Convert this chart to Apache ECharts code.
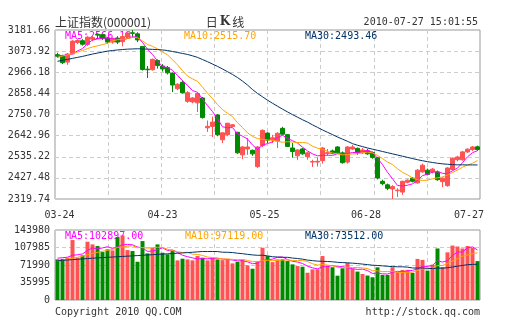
<!DOCTYPE html>
<html><head><meta charset="utf-8">
<script src="https://cdn.jsdelivr.net/npm/echarts/dist/echarts.min.js"></script>
<style>html,body{margin:0;padding:0;background:#fff}#c{width:505px;height:330px}</style>
</head><body><div id="c"></div>
<script>
const dates = ['03-24','03-25','03-26','03-29','03-30','03-31',
'04-01','04-02','04-06','04-07','04-08','04-09','04-12','04-13','04-14','04-15','04-16','04-19','04-20','04-21','04-22','04-23','04-26','04-27','04-28','04-29','04-30',
'05-04','05-05','05-06','05-07','05-10','05-11','05-12','05-13','05-14','05-17','05-18','05-19','05-20','05-21','05-24','05-25','05-26','05-27','05-28','05-31',
'06-01','06-02','06-03','06-04','06-07','06-08','06-09','06-10','06-11','06-17','06-18','06-21','06-22','06-23','06-24','06-25','06-28','06-29','06-30',
'07-01','07-02','07-05','07-06','07-07','07-08','07-09','07-12','07-13','07-14','07-15','07-16','07-19','07-20','07-21','07-22','07-23','07-26','07-27'];

const opens = [3056,3050,3018,3060,3118,3127,3108,3135,3160,3158,
3140,3120,3140,3122,3146,3167,3162,3098,2982,2979,
3026,2998,2990,2962,2882,2915,2818,2815,2810,2835,
2683,2690,2748,2622,2648,2690,2660,2545,2575,2568,
2485,2592,2656,2622,2615,2680,2648,2580,2540,2575,
2535,2508,2508,2515,2552,2565,2585,2555,2508,2575,
2578,2555,2565,2557,2530,2410,2392,2371,2362,2355,
2405,2426,2402,2458,2467,2458,2458,2408,2388,2470,
2520,2520,2560,2572,2586];

const closes = [3048,3015,3059,3125,3128,3109,3145,3143,3156,3140,
3120,3134,3120,3148,3166,3165,3131,2980,2979,3032,
3000,2983,2963,2901,2905,2862,2862,2835,2858,2735,
2690,2712,2648,2657,2706,2698,2555,2585,2585,2550,
2585,2670,2620,2632,2655,2650,2588,2562,2570,2550,
2555,2511,2512,2580,2556,2553,2555,2505,2585,2585,
2555,2570,2550,2532,2427,2398,2374,2383,2365,2410,
2416,2410,2467,2492,2445,2472,2418,2426,2478,2528,
2534,2560,2574,2585,2572];

const highs = [3066,3055,3064,3130,3135,3135,3150,3152,3165,3162,
3146,3142,3150,3166,3170,3181.66,3170,3100,2998,3036,
3032,3008,2998,2965,2910,2925,2870,2840,2862,2840,
2720,2740,2752,2660,2708,2702,2662,2590,2630,2572,
2590,2675,2660,2647,2660,2688,2650,2605,2574,2580,
2560,2520,2532,2585,2575,2572,2590,2562,2590,2595,
2582,2580,2575,2562,2535,2418,2398,2390,2375,2413,
2420,2432,2472,2500,2475,2478,2465,2430,2482,2532,
2540,2565,2578,2590,2592];

const lows = [3040,3008,3004,3058,3110,3102,3100,3125,3136,3130,
3112,3112,3110,3098,3140,3142,3120,2975,2937,2975,
2985,2970,2955,2865,2875,2858,2810,2808,2763,2730,
2662,2636,2640,2605,2640,2686,2550,2523,2545,2540,
2478,2585,2605,2605,2580,2645,2585,2530,2518,2545,
2520,2483,2485,2500,2540,2548,2550,2500,2500,2570,
2545,2550,2545,2525,2420,2390,2365,2319.74,2330,2340,
2400,2405,2398,2455,2440,2450,2413,2380,2382,2465,
2512,2515,2555,2565,2565];

const priceMA5 = [3050,3052,3055,3060,3075,3087,3113,3130,3136,3139,
3141,3139,3134,3132,3138,3147,3146,3118,3084,3057,
3024,2995,2991,2976,2950,2923,2899,2873,2864,2830,
2796,2766,2729,2688,2683,2684,2653,2640,2626,2595,
2572,2595,2602,2611,2632,2645,2629,2617,2605,2584,
2565,2550,2540,2542,2543,2542,2551,2550,2551,2557,
2557,2560,2569,2558,2527,2495,2456,2423,2389,2386,
2390,2397,2414,2439,2446,2457,2459,2451,2448,2464,
2477,2505,2535,2556,2566.18];

const priceMA10 = [3041,3049,3054,3062,3069,3077,3087,3095,3101,3107,
3114,3126,3132,3134,3138,3144,3142,3126,3108,3098,
3086,3070,3055,3030,3004,2974,2947,2932,2920,2890,
2859,2832,2801,2776,2757,2740,2709,2684,2657,2639,
2628,2624,2621,2619,2614,2609,2612,2610,2608,2608,
2605,2589,2579,2573,2563,2554,2550,2545,2546,2550,
2550,2556,2559,2555,2542,2526,2508,2496,2474,2456,
2443,2427,2418,2414,2416,2423,2428,2432,2443,2455,
2467,2482,2493,2502,2515.70];

const priceMA30 = [3022,3027,3032,3037,3042,3047,3053,3059,3064,3069,
3074,3077,3080,3082,3084,3085,3086,3085,3084,3083,
3082,3080,3077,3072,3067,3062,3057,3050,3042,3031,
3020,3008,2996,2983,2969,2955,2939,2921,2901,2878,
2858,2841,2824,2808,2793,2778,2764,2750,2737,2724,
2712,2698,2685,2672,2660,2648,2636,2625,2614,2602,
2594,2587,2580,2574,2568,2562,2556,2550,2544,2538,
2532,2526,2520,2515,2510,2506,2502,2499,2497,2495,
2494,2494,2493.5,2493.5,2493.46];

const volumes = [83500,84500,87000,123300,87000,91800,119900,114400,111000,98600,
104100,102000,129500,133000,102700,100700,78700,121200,95900,107500,
114400,97200,94000,102000,81500,84900,83500,81500,90400,87000,
81500,87000,83500,82000,83500,75300,78700,83500,71200,64300,
80100,107500,90400,78000,83500,83500,80100,73300,69800,68400,
56100,63000,63000,90400,71200,67400,50000,65300,76300,64000,
58500,53500,50300,46800,67200,51600,51600,67400,57100,61900,
61900,55700,84500,82500,60500,72700,106000,68000,98000,112000,
110000,106000,111000,107500,80000];

const volMA5 = [86000,87000,88000,92000,93060,94720,101800,107280,104820,107140,
109600,106020,109040,113440,114260,113580,108920,107260,99840,100800,
103540,107240,101800,103020,97820,91920,89180,86680,84360,85460,
84780,85480,85880,84200,83500,82260,80600,80600,78440,74600,
75560,81320,82700,84060,87900,88580,83100,79680,78040,75020,
69540,66120,64060,68180,68740,71000,68400,68860,66040,64600,
62820,63520,60520,54620,55260,53880,53500,56920,58980,57920,
59980,60800,64220,69300,69020,71180,81240,77940,81040,91340,
98800,98800,107400,109300,102897];

const volMA10 = [80000,82000,84000,86000,88000,90000,93000,96000,98000,100100,
102160,103910,108160,109130,110700,111590,107470,108150,106640,107530,
108560,108080,104530,101430,99310,97730,98210,94240,93690,91640,
88350,87330,86280,84280,84480,83520,83040,83240,81320,79050,
78910,80960,81650,81250,81250,82070,82210,81190,81050,81460,
79060,74610,71870,73110,71880,70270,67260,66460,67110,66670,
66910,65960,64690,60330,59930,58350,58510,58720,56800,56590,
56930,57150,60570,64140,63470,65580,71020,71080,75170,80180,
84990,90020,92670,95170,97119];

const volMA30 = [80500,81500,82300,83000,83800,84500,85200,86000,86600,87200,
87800,88400,89000,89600,90200,90800,91400,92000,92600,93200,
93800,94400,95000,95600,96200,96800,97500,98200,99000,99757,
99690,99773,99657,98280,98163,97613,96240,95210,93883,92740,
91940,92123,90820,88987,88347,87773,87820,86223,85353,84050,
82107,80967,79933,79547,79203,78620,77503,76963,76493,75727,
74960,73843,72737,71563,71020,70230,69327,68790,68320,68240,
67633,65907,65710,65860,65093,64733,65597,65420,66360,67813,
69610,71043,72643,73213,73512];

const priceAxisMin = 2319.74, priceAxisMax = 3181.66, priceAxisStep = 107.74;
const volAxisMin = 0, volAxisMax = 143980, volAxisStep = 35995;
const xTickLabels = ['03-24','04-23','05-25','06-28','07-27'];
const priceLegend = ['MA5:2566.18','MA10:2515.70','MA30:2493.46'];
const volLegend = ['MA5:102897.00','MA10:97119.00','MA30:73512.00'];
const headerName = '上证指数(000001)';
const headerTime = '2010-07-27 15:01:55';
const footerLeft = 'Copyright 2010 QQ.COM';
const footerRight = 'http://stock.qq.com';

const RED = '#ff5252', GREEN = '#008a00';
const C5 = '#ff00ff', C10 = '#ffa500', C30 = '#003366';
const MONO = '"DejaVu Sans Mono", "Liberation Mono", monospace';
const CJK = '"Noto Sans CJK SC", "DejaVu Sans", sans-serif';
const DASH = {show: true, lineStyle: {color: '#cccccc', type: [4, 3], width: 1}};

const candleData = dates.map((d, i) => [opens[i], closes[i], lows[i], highs[i]]);
const padMap = {'03-24': 'a', '05-25': 'b', '06-28': 'c', '07-27': 'd'};

const chart = echarts.init(document.getElementById('c'), null, {renderer: 'canvas'});

function gridValueX(gi) {
  return {type: 'value', gridIndex: gi, min: 0, max: 8, interval: 1, position: 'bottom',
    axisLine: {show: false}, axisTick: {show: false}, axisLabel: {show: false}, splitLine: DASH};
}
function maLine(name, data, color, xi, yi) {
  return {name, type: 'line', data, xAxisIndex: xi, yAxisIndex: yi, showSymbol: false, symbol: 'none',
    lineStyle: {color, width: 1}, itemStyle: {color}, z: 4, silent: true};
}
function txt(x, y, text, fill, align, font, z) {
  return {type: 'text', x, y, z: z || 1, silent: true,
    style: {text, fill, font: font || ('10px ' + MONO), textAlign: align || 'left', textVerticalAlign: 'middle'}};
}

const option = {
  animation: false,
  backgroundColor: '#ffffff',
  grid: [
    {left: 55, top: 30, width: 425, height: 169, show: true, borderColor: '#999', borderWidth: 1, backgroundColor: 'transparent', outerBoundsMode: 'none', containLabel: false},
    {left: 55, top: 230, width: 425, height: 70, show: true, borderColor: '#999', borderWidth: 1, backgroundColor: 'transparent', outerBoundsMode: 'none', containLabel: false}
  ],
  xAxis: [
    {type: 'category', gridIndex: 0, data: dates, boundaryGap: true,
      axisLine: {show: false}, axisTick: {show: false}, splitLine: {show: false},
      axisLabel: {show: true, interval: (idx, val) => xTickLabels.indexOf(val) >= 0,
        margin: 11, color: '#333', fontFamily: MONO, fontSize: 10,
        formatter: v => padMap[v] ? '{' + padMap[v] + '|' + v + '}' : v,
        rich: {a: {padding: [0, 0, 0, 4]}, b: {padding: [0, 6, 0, 0]}, c: {padding: [0, 13, 0, 0]}, d: {padding: [0, 17, 0, 0]}}}},
    gridValueX(0),
    {type: 'category', gridIndex: 1, data: dates, boundaryGap: true,
      axisLine: {show: false}, axisTick: {show: false}, axisLabel: {show: false}, splitLine: {show: false}},
    gridValueX(1)
  ],
  yAxis: [
    {type: 'value', gridIndex: 0, min: priceAxisMin, max: priceAxisMax, interval: priceAxisStep, scale: true,
      axisLine: {show: false}, axisTick: {show: false}, splitLine: DASH,
      axisLabel: {margin: 5, color: '#333', fontFamily: MONO, fontSize: 10, formatter: v => v.toFixed(2)}},
    {type: 'value', gridIndex: 1, min: volAxisMin, max: volAxisMax, interval: volAxisStep,
      axisLine: {show: false}, axisTick: {show: false}, splitLine: DASH,
      axisLabel: {margin: 5, color: '#333', fontFamily: MONO, fontSize: 10, formatter: v => String(Math.round(v))}}
  ],
  series: [
    {type: 'candlestick', data: candleData, xAxisIndex: 0, yAxisIndex: 0, barWidth: 4, z: 3,
      itemStyle: {color: RED, color0: GREEN, borderColor: RED, borderColor0: GREEN, borderWidth: 1}},
    maLine('MA5', priceMA5, C5, 0, 0),
    maLine('MA10', priceMA10, C10, 0, 0),
    maLine('MA30', priceMA30, C30, 0, 0),
    {type: 'bar', data: volumes, xAxisIndex: 2, yAxisIndex: 1, barWidth: 4, z: 3,
      itemStyle: {color: p => closes[p.dataIndex] >= opens[p.dataIndex] ? RED : GREEN}},
    maLine('VMA5', volMA5, C5, 2, 1),
    maLine('VMA10', volMA10, C10, 2, 1),
    maLine('VMA30', volMA30, C30, 2, 1)
  ],
  graphic: [
    txt(55, 22, headerName, '#333', 'left', '12px ' + CJK),
    {type: 'text', x: 225, y: 22, silent: true,
      style: {text: '{a|日}{b|K}{a|线}', textAlign: 'center', textVerticalAlign: 'middle',
        rich: {a: {font: '12px ' + CJK, fill: '#333'}, b: {font: 'bold 12px "DejaVu Serif", serif', fill: '#333', padding: [0, 2, 0, 2]}}}},
    txt(478, 22, headerTime, '#333', 'right'),
    txt(65, 36.5, priceLegend[0], C5),
    txt(184, 36.5, priceLegend[1], C10),
    txt(305, 36.5, priceLegend[2], C30),
    txt(65, 236, volLegend[0], C5),
    txt(185, 236, volLegend[1], C10),
    txt(305, 236, volLegend[2], C30),
    txt(55, 312, footerLeft, '#333', 'left'),
    txt(480, 312, footerRight, '#333', 'right')
  ]
};
chart.setOption(option);
</script></body></html>
